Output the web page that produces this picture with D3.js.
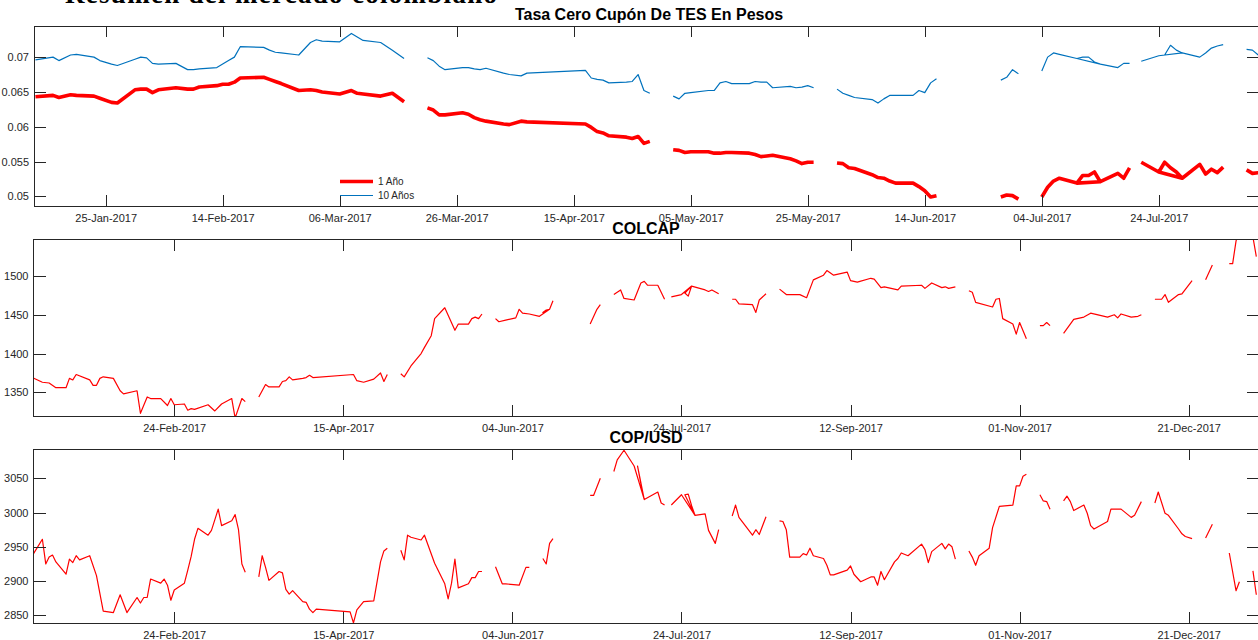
<!DOCTYPE html>
<html>
<head>
<meta charset="utf-8">
<script src="https://cdn.jsdelivr.net/npm/d3@7"></script>
<style>
  body { margin: 0; background: #fff; }
  svg { display: block; }
</style>
</head>
<body>
<svg id="chart"></svg>
<script>
// ---- TES zero coupon curve (1 and 10 years). null = no quote that day.
// Some dates repeat out of order, exactly like the source series (gives the small loops).
const tesDates = [
  "2017-01-13","2017-01-16","2017-01-17","2017-01-19","2017-01-20","2017-01-23","2017-01-24","2017-01-26","2017-01-27","2017-01-30","2017-01-31",
  "2017-02-01","2017-02-02","2017-02-03","2017-02-06","2017-02-08","2017-02-09","2017-02-10","2017-02-13","2017-02-14","2017-02-15","2017-02-16","2017-02-17","2017-02-21","2017-02-22","2017-02-23","2017-02-24","2017-02-27",
  "2017-03-01","2017-03-02","2017-03-03","2017-03-06","2017-03-08","2017-03-09","2017-03-10","2017-03-13","2017-03-15","2017-03-17","2017-03-20",
  "2017-03-21","2017-03-22","2017-03-23","2017-03-24","2017-03-27","2017-03-28","2017-03-29","2017-03-30","2017-03-31",
  "2017-04-03","2017-04-04","2017-04-06","2017-04-07","2017-04-17","2017-04-18","2017-04-19","2017-04-20","2017-04-21","2017-04-24","2017-04-25","2017-04-26","2017-04-27","2017-04-28","2017-05-01",
  "2017-05-02","2017-05-03","2017-05-04","2017-05-05","2017-05-08","2017-05-09","2017-05-10","2017-05-11","2017-05-12","2017-05-15","2017-05-16","2017-05-17","2017-05-18","2017-05-19","2017-05-22","2017-05-23","2017-05-24","2017-05-25","2017-05-26","2017-05-29",
  "2017-05-30","2017-05-31","2017-06-01","2017-06-02","2017-06-05","2017-06-06","2017-06-07","2017-06-08","2017-06-09","2017-06-12","2017-06-13","2017-06-14","2017-06-15","2017-06-16","2017-06-19",
  "2017-06-27","2017-06-28","2017-06-29","2017-06-30","2017-07-03",
  "2017-07-04","2017-07-05","2017-07-06","2017-07-07","2017-07-10","2017-07-11","2017-07-12","2017-07-13","2017-07-14","2017-07-10","2017-07-14","2017-07-17","2017-07-18","2017-07-19","2017-07-20",
  "2017-07-21","2017-07-24","2017-07-25","2017-07-26","2017-07-27","2017-07-28","2017-07-24","2017-07-28","2017-07-31","2017-08-01","2017-08-02","2017-08-03","2017-08-04","2017-08-07",
  "2017-08-08","2017-08-09","2017-08-10"
];
const tes1Year = [
  0.0643,0.0645,0.0642,0.0646,0.0645,0.0644,0.0641,0.0635,0.0634,0.0653,0.0654,
  0.0654,0.0649,0.0653,0.0656,0.0654,0.0654,0.0657,0.0659,0.0661,0.0661,0.0664,0.0670,0.0671,0.0668,0.0665,0.0662,0.0652,
  0.0653,0.0652,0.0650,0.0647,0.0652,0.0648,0.0647,0.0644,0.0648,0.0636,null,
  0.0627,0.0624,0.0617,0.0617,0.0620,0.0618,0.0613,0.0610,0.0608,
  0.0604,0.0603,0.0608,0.0607,0.0604,0.0599,0.0593,0.0591,0.0587,0.0585,0.0583,0.0586,0.0576,0.0579,null,
  0.0567,0.0566,0.0563,0.0564,0.0564,0.0562,0.0562,0.0563,0.0563,0.0562,0.0560,0.0557,0.0558,0.0559,0.0554,0.0551,0.0547,0.0549,0.0549,null,
  0.0548,0.0547,0.0541,0.0540,0.0531,0.0527,0.0526,0.0522,0.0519,0.0519,0.0514,0.0508,0.0499,0.0501,null,
  0.0499,0.0502,0.0501,0.0496,null,
  0.0499,0.0513,0.0522,0.0526,0.0519,0.0530,0.0530,0.0535,0.0521,0.0519,0.0521,0.0533,0.0526,0.0541,null,
  0.0549,0.0535,0.0549,0.0541,0.0535,0.0526,0.0535,0.0526,0.0546,0.0532,0.0539,0.0534,0.0542,null,
  0.0538,0.0533,0.0534
];
const tes10Years = [
  0.0696,0.0700,0.0695,0.0703,0.0704,0.0700,0.0695,0.0690,0.0688,0.0697,0.0700,
  0.0699,0.0691,0.0690,0.0691,0.0682,0.0682,0.0683,0.0685,0.0690,0.0695,0.0700,0.0715,0.0714,0.0710,0.0707,0.0706,0.0703,
  0.0721,0.0725,0.0723,0.0722,0.0734,0.0729,0.0724,0.0721,0.0710,0.0698,null,
  0.0699,0.0695,0.0687,0.0682,0.0685,0.0685,0.0683,0.0682,0.0684,
  0.0677,0.0675,0.0673,0.0677,0.0681,0.0670,0.0668,0.0667,0.0663,0.0664,0.0665,0.0675,0.0652,0.0648,null,
  0.0644,0.0640,0.0648,0.0649,0.0652,0.0652,0.0663,0.0665,0.0662,0.0662,0.0665,0.0664,0.0664,0.0656,0.0658,0.0656,0.0657,0.0659,0.0656,null,
  0.0654,0.0648,0.0645,0.0642,0.0639,0.0634,0.0640,0.0645,0.0645,0.0645,0.0652,0.0649,0.0663,0.0669,null,
  0.0667,0.0671,0.0682,0.0676,null,
  0.0680,0.0700,0.0706,0.0704,0.0698,0.0700,0.0700,0.0693,0.0690,0.0698,0.0690,0.0685,0.0691,0.0691,null,
  0.0694,0.0702,0.0703,0.0717,0.0710,0.0706,0.0702,0.0706,0.0700,0.0706,0.0713,0.0716,0.0718,null,
  0.0711,0.0710,0.0703
];

// ---- COLCAP index
const colcapDates = [
  "2017-01-13","2017-01-16","2017-01-18","2017-01-20","2017-01-23","2017-01-24","2017-01-25","2017-01-26","2017-01-30","2017-01-31",
  "2017-02-01","2017-02-02","2017-02-03","2017-02-06","2017-02-08","2017-02-09","2017-02-13","2017-02-14","2017-02-16","2017-02-17","2017-02-20","2017-02-22","2017-02-23","2017-02-24","2017-02-27","2017-02-28",
  "2017-03-01","2017-03-02","2017-03-06","2017-03-08","2017-03-10","2017-03-13","2017-03-14","2017-03-16","2017-03-17","2017-03-20",
  "2017-03-21","2017-03-23","2017-03-24","2017-03-27","2017-03-28","2017-03-29","2017-03-30","2017-03-31",
  "2017-04-03","2017-04-04","2017-04-05","2017-04-06","2017-04-18","2017-04-19","2017-04-21","2017-04-24","2017-04-26","2017-04-27","2017-04-28","2017-05-01",
  "2017-05-02","2017-05-03","2017-05-05","2017-05-08","2017-05-09","2017-05-11","2017-05-12","2017-05-15","2017-05-18","2017-05-19","2017-05-22","2017-05-23","2017-05-24","2017-05-25","2017-05-26","2017-05-29",
  "2017-05-30","2017-05-31","2017-06-02","2017-06-05","2017-06-06","2017-06-07","2017-06-09","2017-06-12","2017-06-15","2017-06-13","2017-06-14","2017-06-15","2017-06-16","2017-06-19",
  "2017-06-27","2017-06-29","2017-06-30","2017-07-03",
  "2017-07-04","2017-07-06","2017-07-07","2017-07-10","2017-07-12","2017-07-13","2017-07-14","2017-07-17","2017-07-19","2017-07-20",
  "2017-07-21","2017-07-24","2017-07-27","2017-07-25","2017-07-26","2017-07-27","2017-07-31","2017-08-01","2017-08-02","2017-08-04","2017-08-07",
  "2017-08-08","2017-08-09","2017-08-10","2017-08-14","2017-08-15","2017-08-16","2017-08-18","2017-08-21",
  "2017-08-22","2017-08-24","2017-08-28","2017-08-30","2017-09-01","2017-09-04","2017-09-05","2017-09-07","2017-09-11","2017-09-12","2017-09-14","2017-09-18","2017-09-19","2017-09-21","2017-09-22","2017-09-26","2017-09-27","2017-10-03","2017-10-04","2017-10-06","2017-10-09","2017-10-10","2017-10-11","2017-10-13","2017-10-16",
  "2017-10-17","2017-10-18","2017-10-19","2017-10-24","2017-10-25","2017-10-26","2017-10-27","2017-10-30","2017-10-31","2017-11-01","2017-11-03","2017-11-06",
  "2017-11-07","2017-11-08","2017-11-09","2017-11-10","2017-11-13",
  "2017-11-14","2017-11-17","2017-11-20","2017-11-22","2017-11-27","2017-11-29","2017-11-30","2017-12-01","2017-12-04","2017-12-06","2017-12-07","2017-12-08",
  "2017-12-11","2017-12-13","2017-12-14","2017-12-15","2017-12-18","2017-12-19","2017-12-22","2017-12-25",
  "2017-12-26","2017-12-28","2018-01-01",
  "2018-01-02","2018-01-03","2018-01-04","2018-01-05","2018-01-09","2018-01-10"
];
const colcapValues = [
  1369,1363,1362,1356,1356,1368,1366,1373,1366,1359,
  1359,1368,1370,1368,1352,1348,1352,1323,1344,1342,1342,1333,1342,1334,1335,1327,
  1329,1328,1334,1326,1335,1342,1317,1342,1338,null,
  1344,1360,1357,1357,1364,1365,1370,1366,
  1368,1369,1372,1369,1373,1365,1363,1367,1375,1364,1373,null,
  1374,1370,1384,1400,1408,1423,1445,1459,1430,1438,1438,1445,1447,1445,1451,null,
  1445,1441,1443,1446,1457,1452,1451,1448,1457,1453,1456,1457,1468,null,
  1438,1457,1463,null,
  1476,1482,1471,1469,1491,1493,1488,1488,1470,null,
  1473,1476,1487,1478,1474,1487,1482,1480,1482,1477,null,
  1470,1470,1464,1463,1453,1469,1477,null,
  1483,1476,1476,1472,1495,1501,1507,1501,1505,1494,1492,1497,1496,1485,1486,1482,1487,1488,1484,1491,1485,1486,1484,1486,null,
  1481,1479,1466,1460,1470,1471,1445,1438,1425,1440,1419,null,
  1436,1436,1440,1436,null,
  1426,1444,1447,1452,1447,1450,1446,1451,1447,1448,1450,null,
  1470,1470,1476,1466,1476,1477,1494,null,
  1495,1514,null,
  1516,1516,1545,1562,1550,1525
];

// ---- COP/USD exchange rate
const copDates = [
  "2017-01-13","2017-01-16","2017-01-17","2017-01-18","2017-01-19","2017-01-20","2017-01-23","2017-01-24","2017-01-25","2017-01-26","2017-01-27","2017-01-30",
  "2017-02-01","2017-02-03","2017-02-06","2017-02-08","2017-02-10","2017-02-13","2017-02-14","2017-02-15","2017-02-16","2017-02-17","2017-02-20","2017-02-21","2017-02-22","2017-02-23","2017-02-24","2017-02-27","2017-02-28",
  "2017-03-01","2017-03-02","2017-03-03","2017-03-06","2017-03-07","2017-03-09","2017-03-10","2017-03-13","2017-03-14","2017-03-15","2017-03-16","2017-03-17","2017-03-20",
  "2017-03-21","2017-03-22","2017-03-23","2017-03-24","2017-03-27","2017-03-28","2017-03-29","2017-03-30","2017-03-31",
  "2017-04-03","2017-04-04","2017-04-05","2017-04-06","2017-04-07","2017-04-17","2017-04-18","2017-04-19","2017-04-21","2017-04-24","2017-04-26","2017-04-27","2017-04-28","2017-05-01",
  "2017-05-02","2017-05-03","2017-05-04","2017-05-05","2017-05-08","2017-05-09","2017-05-12","2017-05-15","2017-05-16","2017-05-17","2017-05-18","2017-05-19","2017-05-22","2017-05-23","2017-05-24","2017-05-25","2017-05-26","2017-05-29",
  "2017-05-30","2017-06-01","2017-06-02","2017-06-06","2017-06-08","2017-06-09","2017-06-12",
  "2017-06-13","2017-06-14","2017-06-15","2017-06-16","2017-06-19",
  "2017-06-27","2017-06-28","2017-06-30","2017-07-03",
  "2017-07-04","2017-07-05","2017-07-07","2017-07-10","2017-07-13","2017-07-11","2017-07-12","2017-07-13","2017-07-17","2017-07-18","2017-07-19","2017-07-20",
  "2017-07-21","2017-07-24","2017-07-28","2017-07-25","2017-07-26","2017-07-27","2017-07-28","2017-07-31","2017-08-01","2017-08-03","2017-08-04","2017-08-07",
  "2017-08-08","2017-08-09","2017-08-10","2017-08-14","2017-08-15","2017-08-16","2017-08-18","2017-08-21",
  "2017-08-22","2017-08-23","2017-08-24","2017-08-25","2017-08-28","2017-08-29","2017-08-30","2017-08-31","2017-09-01","2017-09-04","2017-09-05","2017-09-06","2017-09-07","2017-09-11","2017-09-12","2017-09-13","2017-09-15","2017-09-18","2017-09-19","2017-09-20","2017-09-21","2017-09-22","2017-09-25","2017-09-26","2017-09-27","2017-09-29","2017-10-03","2017-10-04","2017-10-05","2017-10-06","2017-10-09","2017-10-10","2017-10-11","2017-10-12","2017-10-13","2017-10-16",
  "2017-10-17","2017-10-18","2017-10-19","2017-10-20","2017-10-23","2017-10-24","2017-10-26","2017-10-30","2017-10-31","2017-11-01","2017-11-02","2017-11-03","2017-11-06",
  "2017-11-07","2017-11-08","2017-11-09","2017-11-10","2017-11-13",
  "2017-11-14","2017-11-15","2017-11-16","2017-11-17","2017-11-20","2017-11-21","2017-11-22","2017-11-23","2017-11-27","2017-11-28","2017-12-01","2017-12-04","2017-12-05","2017-12-07","2017-12-08",
  "2017-12-11","2017-12-12","2017-12-14","2017-12-15","2017-12-18","2017-12-19","2017-12-20","2017-12-22","2017-12-25",
  "2017-12-26","2017-12-28","2018-01-01",
  "2018-01-02","2018-01-04","2018-01-05","2018-01-08",
  "2018-01-09","2018-01-10"
];
const copValues = [
  2937,2961,2925,2935,2938,2928,2910,2932,2927,2937,2931,2937,
  2908,2856,2854,2880,2854,2876,2868,2876,2876,2903,2897,2903,2894,2872,2887,2897,2916,
  2936,2961,2977,2967,2974,3005,2981,2988,2997,2975,2925,2913,null,
  2906,2937,2920,2901,2914,2912,2888,2881,2886,
  2870,2869,2859,2854,2859,2855,2839,2858,2870,2871,2928,2944,2948,null,
  2945,2931,2967,2964,2960,2967,2926,2896,2874,2897,2932,2890,2896,2905,2905,2914,2914,null,
  2921,2896,2896,2894,2920,2920,null,
  2933,2925,2955,2962,null,
  3025,3025,3050,null,
  3060,3077,3091,3068,3019,3068,3042,3019,3030,3014,3011,null,
  3011,3026,2996,3026,3027,3010,2996,2998,2974,2955,2975,null,
  2995,3011,2993,2967,2975,2968,2994,null,
  2988,2987,2975,2935,2935,2940,2938,2948,2937,2933,2923,2909,2909,2916,2922,2910,2899,2906,2906,2894,2914,2902,2928,2933,2941,2937,2954,2946,2927,2943,2955,2947,2954,2950,2932,null,
  2944,2935,2923,2937,2948,2978,3009,3011,3039,3039,3053,3056,null,
  3026,3017,3016,3005,null,
  3017,3024,3016,3003,3011,2999,2981,2976,2987,3005,3005,2993,2996,3016,null,
  3014,3030,2999,2996,2976,2969,2965,2962,null,
  2963,2983,null,
  2941,2886,2899,null,
  2915,2880
];

// ---- axis limits and ticks
const tesXLim = ["2017-01-12 18:00", "2017-08-10 03:00"];
const marketXLim = ["2017-01-13 09:00", "2018-01-10 19:00"];
const tesYLim = [0.04861, 0.07447];
const colcapYLim = [1319.5, 1547];
const copYLim = [2838.8, 3092.8];
const tesXTicks = ["2017-01-25","2017-02-14","2017-03-06","2017-03-26","2017-04-15","2017-05-05","2017-05-25","2017-06-14","2017-07-04","2017-07-24"];
const marketXTicks = ["2017-02-24","2017-04-15","2017-06-04","2017-07-24","2017-09-12","2017-11-01","2017-12-21"];
const tesYTicks = [0.05, 0.055, 0.06, 0.065, 0.07];
const colcapYTicks = [1350, 1400, 1450, 1500];
const copYTicks = [2850, 2900, 2950, 3000, 3050];
const legendLabels = ["1 Año", "10 Años"];

const width = 1258, height = 640;
const font = "'Liberation Sans', Arial, Helvetica, sans-serif";
const axisColor = "#262626";

const parseDate = d3.timeParse("%Y-%m-%d");
const parseLim = d3.timeParse("%Y-%m-%d %H:%M");
const fmtDate = d3.timeFormat("%d-%b-%Y");
const fmtY = d3.format("~g");

const svg = d3.select("#chart")
  .attr("width", width)
  .attr("height", height)
  .style("font-family", font);

// page heading cut by the top edge of the screenshot
svg.append("text")
  .attr("x", 65)
  .attr("y", 3)
  .attr("textLength", 432)
  .style("font-family", "'Liberation Serif', 'Times New Roman', serif")
  .style("font-weight", "bold")
  .style("font-size", "27px")
  .text("Resumen del mercado colombiano");

function drawPanel(cfg, idx) {
  const { left, right, top, bottom } = cfg;

  const x = d3.scaleTime()
    .domain(cfg.xLim.map(parseLim))
    .range([left, right]);

  const y = d3.scaleLinear()
    .domain(cfg.yLim)
    .range([bottom, top]);

  const g = svg.append("g");

  g.append("clipPath")
    .attr("id", "clip" + idx)
    .append("rect")
    .attr("x", left)
    .attr("y", top)
    .attr("width", right - left)
    .attr("height", bottom - top);

  const line = d3.line()
    .defined(d => d.v != null)
    .x(d => x(d.date))
    .y(d => y(d.v));

  cfg.series.forEach(s => {
    const pts = s.dates.map((d, i) => ({ date: parseDate(d), v: s.values[i] }));
    g.append("path")
      .datum(pts)
      .attr("clip-path", `url(#clip${idx})`)
      .attr("fill", "none")
      .attr("stroke", s.color)
      .attr("stroke-width", s.width)
      .attr("stroke-linejoin", "round")
      .attr("d", line);
  });

  const xTicks = cfg.xTicks.map(parseDate);

  // bottom axis, ticks pointing inward
  const xb = g.append("g")
    .attr("transform", `translate(0,${bottom})`)
    .call(d3.axisBottom(x).tickValues(xTicks).tickFormat(fmtDate)
      .tickSizeInner(-11).tickSizeOuter(0).tickPadding(8));
  // top mirror ticks
  const xt = g.append("g")
    .attr("transform", `translate(0,${top})`)
    .call(d3.axisTop(x).tickValues(xTicks).tickFormat("")
      .tickSizeInner(-11).tickSizeOuter(0));
  const yl = g.append("g")
    .attr("transform", `translate(${left},0)`)
    .call(d3.axisLeft(y).tickValues(cfg.yTicks).tickFormat(fmtY)
      .tickSizeInner(-12).tickSizeOuter(0).tickPadding(5));
  const yr = g.append("g")
    .attr("transform", `translate(${right},0)`)
    .call(d3.axisRight(y).tickValues(cfg.yTicks).tickFormat("")
      .tickSizeInner(-12).tickSizeOuter(0));

  [xb, xt, yl, yr].forEach(a => {
    a.select(".domain").remove();
    a.selectAll(".tick line").attr("stroke", axisColor).attr("shape-rendering", "crispEdges");
    a.selectAll(".tick text")
      .attr("fill", axisColor)
      .style("font-family", font)
      .style("font-size", "11px");
  });

  g.append("rect")
    .attr("x", left)
    .attr("y", top)
    .attr("width", right - left)
    .attr("height", bottom - top)
    .attr("fill", "none")
    .attr("stroke", axisColor)
    .attr("stroke-width", 1)
    .attr("shape-rendering", "crispEdges");

  g.append("text")
    .attr("x", cfg.titleX)
    .attr("y", top - 6)
    .attr("text-anchor", "middle")
    .style("font-size", "16px")
    .style("font-weight", "bold")
    .attr("fill", "#000")
    .text(cfg.title);

  if (cfg.legend) {
    const lg = g.append("g").attr("transform", `translate(${cfg.legend.x},${cfg.legend.y})`);
    cfg.series.forEach((s, i) => {
      lg.append("line")
        .attr("x1", 0).attr("x2", 33)
        .attr("y1", i * 14).attr("y2", i * 14)
        .attr("stroke", s.color)
        .attr("stroke-width", s.width);
      lg.append("text")
        .attr("x", 38)
        .attr("y", i * 14 + 3.5)
        .style("font-size", "10px")
        .attr("fill", axisColor)
        .text(legendLabels[i]);
    });
  }
}

const panels = [
  {
    title: "Tasa Cero Cupón De TES En Pesos", titleX: 649,
    left: 34, right: 1259, top: 26, bottom: 206,
    xLim: tesXLim, yLim: tesYLim, xTicks: tesXTicks, yTicks: tesYTicks,
    series: [
      { dates: tesDates, values: tes1Year, color: "#ff0000", width: 3.6 },
      { dates: tesDates, values: tes10Years, color: "#0072bd", width: 1.2 }
    ],
    legend: { x: 340, y: 181.5 }
  },
  {
    title: "COLCAP", titleX: 646,
    left: 33.5, right: 1259, top: 239.5, bottom: 416,
    xLim: marketXLim, yLim: colcapYLim, xTicks: marketXTicks, yTicks: colcapYTicks,
    series: [{ dates: colcapDates, values: colcapValues, color: "#ff0000", width: 1.2 }]
  },
  {
    title: "COP/USD", titleX: 646,
    left: 33.5, right: 1259, top: 449, bottom: 623,
    xLim: marketXLim, yLim: copYLim, xTicks: marketXTicks, yTicks: copYTicks,
    series: [{ dates: copDates, values: copValues, color: "#ff0000", width: 1.2 }]
  }
];

panels.forEach((p, i) => drawPanel(p, i));
</script>
</body>
</html>
